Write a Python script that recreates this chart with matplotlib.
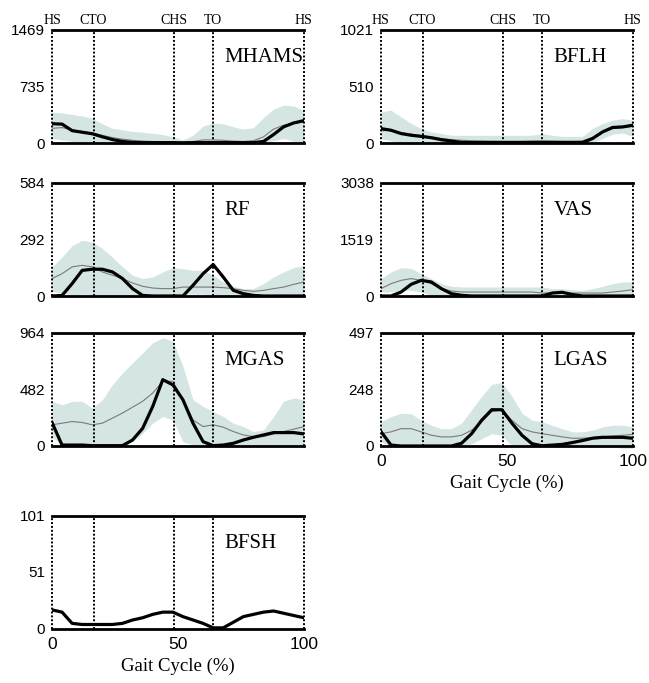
import matplotlib
matplotlib.use('Agg')
import matplotlib.pyplot as plt

gait = list(range(0, 101, 4))  # % gait cycle
events = [0, 16.5, 48.5, 64, 100]
event_labels = ['HS', 'CTO', 'CHS', 'TO', 'HS']

# ---- MHAMS ----
mhams_ticks = [0, 735, 1469]
mhams_sim = [250, 245, 160, 140, 120, 80, 45, 20, 8, 5, 5, 5, 5, 3, 5, 5, 5, 5, 5, 5, 5, 20, 110, 210, 260, 290]
mhams_exp = [190, 200, 170, 150, 130, 100, 70, 50, 35, 25, 20, 15, 10, 10, 20, 40, 40, 35, 25, 20, 30, 80, 180, 230, 260, 270]
mhams_hi = [400, 390, 370, 350, 320, 250, 190, 170, 150, 140, 125, 110, 80, 40, 100, 220, 260, 250, 210, 180, 200, 330, 440, 490, 480, 420]
mhams_lo = [60, 40, 20, 10, 0, -10, -20, -20, -20, -20, -20, -20, -20, -20, -20, -20, -20, -20, -20, -20, -20, 0, 30, 60, 20, 0]

# ---- BFLH ----
bflh_ticks = [0, 510, 1021]
bflh_sim = [130, 115, 85, 70, 60, 48, 30, 18, 5, 5, 5, 5, 5, 5, 5, 5, 5, 5, 5, 5, 5, 40, 100, 140, 145, 160]
bflh_exp = [110, 115, 95, 80, 65, 50, 40, 30, 25, 20, 18, 16, 15, 15, 15, 18, 20, 18, 16, 15, 18, 50, 100, 130, 140, 150]
bflh_hi = [280, 295, 235, 175, 130, 100, 85, 70, 70, 70, 70, 70, 70, 70, 70, 70, 85, 70, 60, 60, 60, 130, 175, 205, 220, 205]
bflh_lo = [40, 20, 0, -10, -10, -10, -10, -10, -10, -10, -10, -10, -10, -10, -10, -10, -10, -10, -10, -10, -10, 0, 40, 80, 90, 60]

# ---- RF ----
rf_ticks = [0, 292, 584]
rf_sim = [0, 3, 64, 132, 138, 138, 124, 90, 38, 3, 0, 0, 0, 0, 55, 115, 162, 98, 29, 12, 3, 0, 0, 0, 0, 0]
rf_exp = [90, 115, 150, 158, 150, 124, 107, 90, 67, 50, 41, 38, 38, 46, 46, 46, 46, 43, 38, 29, 24, 29, 38, 46, 60, 72]
rf_hi = [150, 200, 260, 287, 278, 245, 200, 150, 107, 90, 98, 124, 146, 141, 132, 132, 107, 72, 50, 38, 38, 64, 98, 124, 146, 158]
rf_lo = [25, 15, 5, 10, 5, 0, 0, 0, 0, 0, 0, 0, 5, 10, 10, 10, 5, 0, 0, 0, 0, 0, 0, 0, 0, 0]

# ---- VAS ----
vas_ticks = [0, 1519, 3038]
vas_sim = [0, 0, 107, 314, 420, 376, 197, 63, 18, 0, 0, 0, 0, 0, 0, 0, 0, 80, 100, 40, 0, 0, 0, 0, 0, 0]
vas_exp = [197, 330, 420, 466, 420, 330, 197, 134, 107, 107, 107, 107, 107, 107, 107, 107, 80, 80, 80, 80, 80, 80, 80, 107, 134, 170]
vas_hi = [466, 645, 760, 735, 600, 466, 330, 260, 242, 242, 242, 242, 242, 242, 242, 242, 242, 197, 197, 170, 152, 197, 260, 330, 376, 376]
vas_lo = [107, 107, 152, 152, 107, 18, -30, -50, -50, -50, -50, -50, -50, -50, -50, -50, -50, -50, -50, -50, -50, -50, -30, 0, 0, 0]

# ---- MGAS ----
mgas_ticks = [0, 482, 964]
mgas_sim = [200, 8, 8, 8, 3, 3, 3, 3, 51, 150, 336, 564, 520, 393, 194, 37, 3, 8, 23, 51, 74, 94, 114, 114, 114, 103]
mgas_exp = [180, 194, 208, 200, 180, 194, 237, 280, 330, 380, 450, 550, 550, 393, 222, 165, 180, 160, 123, 94, 80, 80, 103, 123, 143, 165]
mgas_hi = [380, 350, 380, 380, 322, 393, 522, 621, 707, 792, 878, 920, 892, 678, 393, 336, 294, 251, 194, 165, 123, 137, 251, 380, 408, 393]
mgas_lo = [80, 8, 0, 0, 0, 0, 0, 0, 37, 108, 194, 251, 222, 37, 8, 0, 0, 0, 0, 0, 0, 0, 0, 0, 0, 0]

# ---- LGAS ----
lgas_ticks = [0, 248, 497]
lgas_sim = [63, 4, 0, 0, 0, 0, 0, 0, 12, 54, 113, 159, 159, 100, 47, 10, 1, 4, 7, 15, 24, 34, 38, 38, 38, 34]
lgas_exp = [54, 62, 76, 76, 62, 47, 40, 40, 47, 69, 106, 151, 159, 113, 76, 62, 54, 47, 40, 34, 34, 37, 40, 44, 47, 51]
lgas_hi = [106, 129, 144, 141, 113, 91, 76, 76, 100, 159, 218, 270, 278, 218, 144, 113, 106, 91, 76, 62, 62, 69, 84, 91, 91, 84]
lgas_lo = [18, 0, 0, 0, 0, 0, 0, 0, 0, 10, 32, 54, 47, 0, 0, 0, 0, 0, 0, 0, 0, 0, 0, -5, -10, -10]

# ---- BFSH ----
bfsh_ticks = [0, 51, 101]
bfsh_sim = [17, 15, 5, 4, 4, 4, 4, 5, 8, 10, 13, 15, 15, 11, 8, 5, 1, 1, 6, 11, 13, 15, 16, 14, 12, 10]

SERIF = ['Liberation Serif', 'DejaVu Serif']
SANS = ['Liberation Sans', 'DejaVu Sans']
BAND = '#d4e5e3'

fig = plt.figure(figsize=(6.49, 6.83), dpi=100)

W = 0.388
H = 0.166
lefts = [0.0801, 0.587]
bottoms = [0.7906, 0.5666, 0.3470, 0.0791]

panels = [
    ('MHAMS', mhams_ticks, mhams_sim, mhams_exp, mhams_hi, mhams_lo, 0, 0, False),
    ('BFLH', bflh_ticks, bflh_sim, bflh_exp, bflh_hi, bflh_lo, 1, 0, False),
    ('RF', rf_ticks, rf_sim, rf_exp, rf_hi, rf_lo, 0, 1, False),
    ('VAS', vas_ticks, vas_sim, vas_exp, vas_hi, vas_lo, 1, 1, False),
    ('MGAS', mgas_ticks, mgas_sim, mgas_exp, mgas_hi, mgas_lo, 0, 2, False),
    ('LGAS', lgas_ticks, lgas_sim, lgas_exp, lgas_hi, lgas_lo, 1, 2, True),
    ('BFSH', bfsh_ticks, bfsh_sim, None, None, None, 0, 3, True),
]

for name, yt, sim, exp, hi, lo, col, row, xlab in panels:
    ax = fig.add_axes([lefts[col], bottoms[row], W, H])
    if hi is not None:
        ax.fill_between(gait, lo, hi, color=BAND, lw=0, clip_on=False, zorder=1)
        ax.plot(gait, exp, color='#7a7a7a', lw=0.8, zorder=2)
    ax.plot(gait, sim, color='black', lw=2.3, zorder=4, solid_joinstyle='round')
    for ev in events:
        ax.axvline(ev, color='black', lw=1.4, ls=(0, (1, 1)), zorder=3, clip_on=False)
    ax.set_xlim(0, 100)
    ax.set_ylim(0, yt[-1])
    ax.set_yticks(yt)
    ax.set_yticklabels([str(v) for v in yt], family=SANS, fontsize=11)
    ax.tick_params(axis='y', length=0, pad=5)
    for s in ['left', 'right']:
        ax.spines[s].set_visible(False)
    for s in ['top', 'bottom']:
        ax.spines[s].set_linewidth(2.0)
        ax.spines[s].set_zorder(5)
    if xlab:
        ax.set_xticks([0, 50, 100])
        ax.set_xticklabels(['0', '50', '100'], family=SANS, fontsize=12.5)
        ax.tick_params(axis='x', length=0, pad=6)
        ax.set_xlabel('Gait Cycle (%)', family=SERIF, fontsize=13.5, labelpad=4)
    else:
        ax.set_xticks([])
    ax.text(0.685, 0.75, name, transform=ax.transAxes, family=SERIF, fontsize=15,
            ha='left', va='center')
    if row == 0:
        for ev, lab in zip(events, event_labels):
            ax.annotate(lab, xy=(ev, 1.0), xycoords=('data', 'axes fraction'),
                        xytext=(0, 2), textcoords='offset points',
                        ha='center', va='bottom', family=SERIF, fontsize=10)

fig.savefig('out.png', dpi=100)
